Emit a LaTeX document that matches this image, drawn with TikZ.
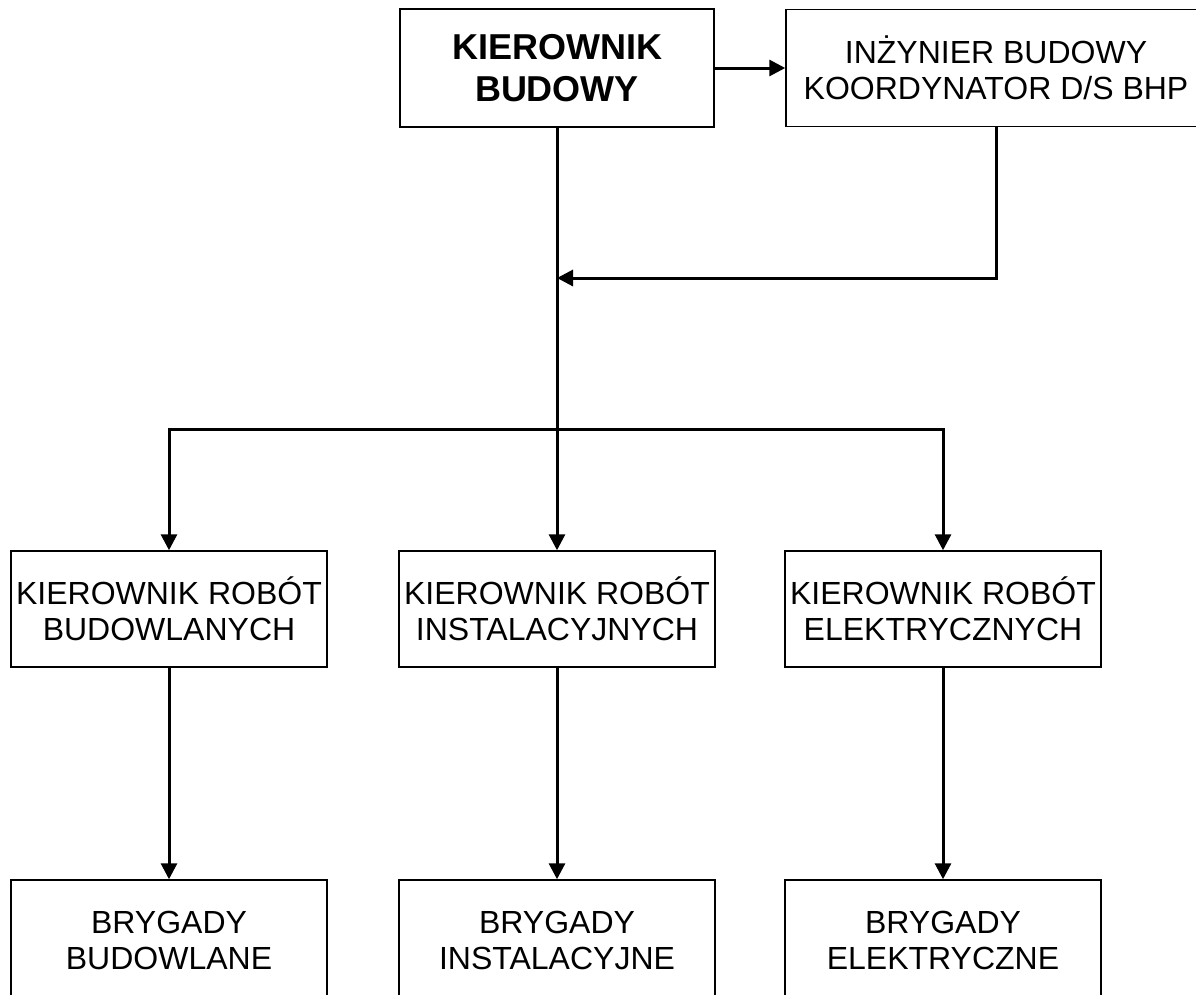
\documentclass[tikz,border=0pt]{standalone}
\usepackage{fontspec}
\setmainfont{Liberation Sans}
\usetikzlibrary{arrows.meta}
\begin{document}
\begin{tikzpicture}[x=1pt,y=-1pt,
  box/.style={draw=black, line width=1.5pt, inner sep=0pt, align=center,
    font=\fontsize{32}{36}\selectfont, minimum width=316pt, minimum height=116pt},
  bigbox/.style={box, font=\fontsize{36}{42}\selectfont\bfseries},
  arr/.style={line width=3pt, -{Triangle[length=16pt,width=16pt]}}]
\useasboundingbox (0,0) rectangle (1196,994);
\clip (0,0) rectangle (1196,994);
\fill[white] (0,0) rectangle (1196,994);
\node[bigbox, minimum width=314pt, minimum height=118pt] (kb) at (557,68) {KIEROWNIK\\BUDOWY};
\node[box, minimum width=420pt, minimum height=117pt] (inz) at (996,68) {INŻYNIER BUDOWY\\KOORDYNATOR D/S BHP};
\node[box] (m1) at (169,609) {KIEROWNIK ROBÓT\\BUDOWLANYCH};
\node[box] (m2) at (557,609) {KIEROWNIK ROBÓT\\INSTALACYJNYCH};
\node[box] (m3) at (943,609) {KIEROWNIK ROBÓT\\ELEKTRYCZNYCH};
\node[box, minimum height=120pt] (b1) at (169,940) {BRYGADY\\BUDOWLANE};
\node[box, minimum height=120pt] (b2) at (557,940) {BRYGADY\\INSTALACYJNE};
\node[box, minimum height=120pt] (b3) at (943,940) {BRYGADY\\ELEKTRYCZNE};
\coordinate (j1) at (557,278);
\coordinate (split) at (557,429);
\draw[arr] (kb.east) -- (inz.west);
\draw[arr] (kb.south) -- (m2.north);
\draw[arr] (inz.south) |- (j1);
\draw[arr] (split) -| (m1.north);
\draw[arr] (split) -| (m3.north);
\draw[arr] (m1.south) -- (b1.north);
\draw[arr] (m2.south) -- (b2.north);
\draw[arr] (m3.south) -- (b3.north);
\end{tikzpicture}
\end{document}
